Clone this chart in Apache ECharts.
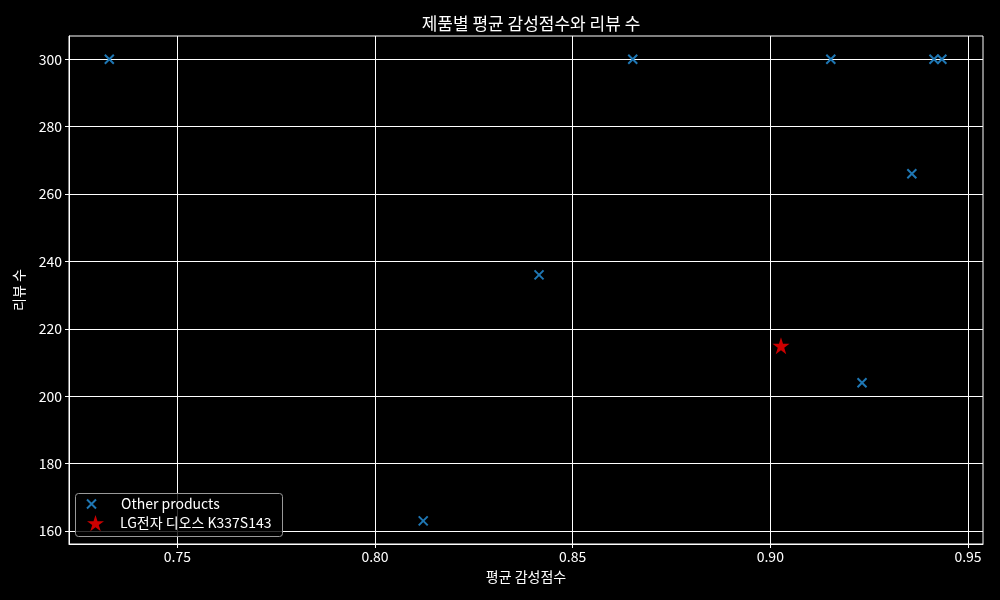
<!DOCTYPE html>
<html><head><meta charset="utf-8">
<script src="https://cdn.jsdelivr.net/npm/echarts@6/dist/echarts.min.js"></script>
<style>html,body{margin:0;padding:0;background:#000}#c{width:1000px;height:600px}</style>
</head><body><div id="c"></div>
<script>
const title = '제품별 평균 감성점수와 리뷰 수';
const xName = '평균 감성점수';
const yName = '리뷰 수';
const otherName = 'Other products';
const targetName = 'LG전자 디오스 K337S143';
const otherX = [0.7328, 0.8652, 0.9153, 0.9414, 0.9434, 0.9358, 0.8415, 0.9232, 0.8122];
const otherY = [300, 300, 300, 300, 300, 266, 236, 204, 163];
const targetX = [0.9027];
const targetY = [215];
const xTicks = [0.75, 0.80, 0.85, 0.90, 0.95];
const yTicks = [160, 180, 200, 220, 240, 260, 280, 300];

const FONT = '"Noto Sans CJK KR", "DejaVu Sans", sans-serif';
const crossPath = 'path://M0,0L10,10M10,0L0,10';
const starPath = 'path://M50,0L61.2,34.5L97.6,34.5L68.2,55.9L79.4,90.5L50,69.1L20.6,90.5L31.8,55.9L2.4,34.5L38.8,34.5Z';
const CROSS_COLOR = '#1f77b4';

const chart = echarts.init(document.getElementById('c'));
chart.setOption({
  backgroundColor: '#000',
  animation: false,
  title: {
    text: title, left: 526, textAlign: 'center', top: 10,
    textStyle: {color: '#fff', fontSize: 17, fontWeight: 'normal', fontFamily: FONT}
  },
  grid: {left: 69, right: 17, top: 36, bottom: 56, show: true, borderColor: '#fff', borderWidth: 1,
    backgroundColor: 'transparent', outerBoundsMode: 'none', containLabel: false},
  graphic: [{
    type: 'rect', z: 5, silent: true,
    shape: {x: 75.5, y: 493.5, width: 207, height: 43, r: 3},
    style: {fill: 'rgba(0,0,0,0.8)', stroke: '#999', lineWidth: 1}
  }],
  legend: [
    {
      orient: 'vertical', left: 86, top: 497, z: 6, padding: 0,
      itemWidth: 9, itemHeight: 9,
      textStyle: {color: '#fff', fontSize: 14, fontFamily: FONT, padding: [0,0,0,20]},
      data: [{name: otherName, icon: crossPath, itemStyle: {color: 'transparent', borderColor: CROSS_COLOR, borderWidth: 2}}]
    },
    {
      orient: 'vertical', left: 87, top: 515, z: 6, padding: 0,
      itemWidth: 17, itemHeight: 17,
      textStyle: {color: '#fff', fontSize: 14, fontFamily: FONT, padding: [0,0,0,11]},
      data: [{name: targetName, icon: starPath, itemStyle: {color: '#ff0000', borderWidth: 0}}]
    }
  ],
  xAxis: {
    type: 'value', min: 0.7226, max: 0.9538,
    name: xName, nameLocation: 'middle', nameGap: 26,
    nameTextStyle: {color: '#fff', fontSize: 14, fontFamily: FONT},
    axisLine: {show: true, lineStyle: {color: '#fff'}},
    axisTick: {show: true, inside: false, length: 4, lineStyle: {color: '#fff'}, customValues: xTicks},
    axisLabel: {color: '#fff', fontSize: 14, fontFamily: FONT, margin: 6, customValues: xTicks,
      formatter: v => v.toFixed(2)},
    splitLine: {show: true, lineStyle: {color: '#fff', width: 1}}
  },
  yAxis: {
    type: 'value', min: 156.14, max: 306.9,
    name: yName, nameLocation: 'middle', nameGap: 43, nameRotate: 90,
    nameTextStyle: {color: '#fff', fontSize: 14, fontFamily: FONT},
    axisLine: {show: true, lineStyle: {color: '#fff'}},
    axisTick: {show: true, inside: false, length: 4, lineStyle: {color: '#fff'}, customValues: yTicks},
    axisLabel: {color: '#fff', fontSize: 14, fontFamily: FONT, margin: 7, customValues: yTicks},
    splitLine: {show: true, lineStyle: {color: '#fff', width: 1}}
  },
  series: [
    {
      name: otherName, type: 'scatter', symbol: crossPath, symbolSize: 9,
      itemStyle: {color: 'transparent', borderColor: CROSS_COLOR, borderWidth: 2, opacity: 1},
      data: otherX.map((x, i) => [x, otherY[i]]), z: 3
    },
    {
      name: targetName, type: 'scatter', symbol: starPath, symbolSize: 17,
      itemStyle: {color: '#ff0000'},
      data: targetX.map((x, i) => [x, targetY[i]]), z: 4
    }
  ]
});
</script></body></html>
